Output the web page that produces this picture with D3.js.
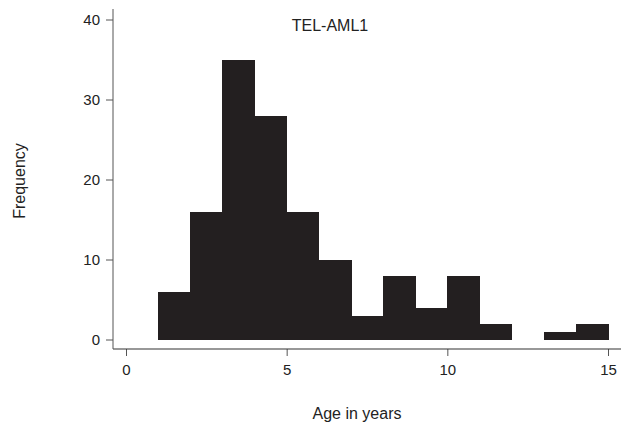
<!DOCTYPE html>
<html><head><meta charset="utf-8">
<script src="https://cdn.jsdelivr.net/npm/d3@7"></script>
<style>body{margin:0;background:#fff}svg{display:block}text{font-family:"Liberation Sans",Arial,sans-serif;fill:#222}</style>
</head><body>
<script>
const binStarts = [1,2,3,4,5,6,7,8,9,10,11,12,13,14];
const frequencies = [6,16,35,28,16,10,3,8,4,8,2,0,1,2];
const xTicks = [0,5,10,15];
const yTicks = [0,10,20,30,40];
const title = "TEL-AML1";
const xLabel = "Age in years";
const yLabel = "Frequency";

const W=635,H=426;
const svg=d3.select("body").append("svg").attr("width",W).attr("height",H);
const x=d3.scaleLinear().domain([0,15]).range([126,608]);
const y=d3.scaleLinear().domain([0,40]).range([339.5,19.5]);
const axisY=349, axisX=113;

svg.append("g").attr("shape-rendering","crispEdges").selectAll("rect").data(binStarts.map((s,i)=>({s,v:frequencies[i]})).filter(d=>d.v>0))
  .join("rect")
  .attr("x",d=>x(d.s)).attr("width",d=>x(d.s+1)-x(d.s)+0.6)
  .attr("y",d=>y(d.v)).attr("height",d=>y(0)-y(d.v))
  .attr("fill","#231f20");

// x axis
const gx=svg.append("g").attr("transform",`translate(0,${axisY})`)
  .call(d3.axisBottom(x).tickValues(xTicks).tickSize(7).tickPadding(8).tickFormat(d3.format("d")));
gx.select(".domain").remove();
svg.append("line").attr("x1",axisX).attr("x2",621).attr("y1",axisY).attr("y2",axisY).attr("stroke","#333").attr("stroke-width",1.2);
gx.selectAll(".tick line").attr("stroke","#555");
gx.selectAll(".tick text").attr("font-size",15).style("font-family","Liberation Sans, Arial, sans-serif").attr("fill","#222");

// y axis
const gy=svg.append("g").attr("transform",`translate(${axisX},0)`)
  .call(d3.axisLeft(y).tickValues(yTicks).tickSize(7).tickPadding(6).tickFormat(d3.format("d")));
gy.select(".domain").remove();
svg.append("line").attr("x1",axisX).attr("x2",axisX).attr("y1",9).attr("y2",axisY).attr("stroke","#555").attr("stroke-width",1);
gy.selectAll(".tick line").attr("stroke","#555");
gy.selectAll(".tick text").attr("font-size",15).style("font-family","Liberation Sans, Arial, sans-serif").attr("fill","#222");

svg.append("text").attr("x",330).attr("y",31).attr("text-anchor","middle").attr("font-size",16).text(title);
svg.append("text").attr("x",357).attr("y",419).attr("text-anchor","middle").attr("font-size",16).text(xLabel);
svg.append("text").attr("transform","translate(25,181) rotate(-90)").attr("text-anchor","middle").attr("font-size",16).text(yLabel);
</script>
</body></html>
